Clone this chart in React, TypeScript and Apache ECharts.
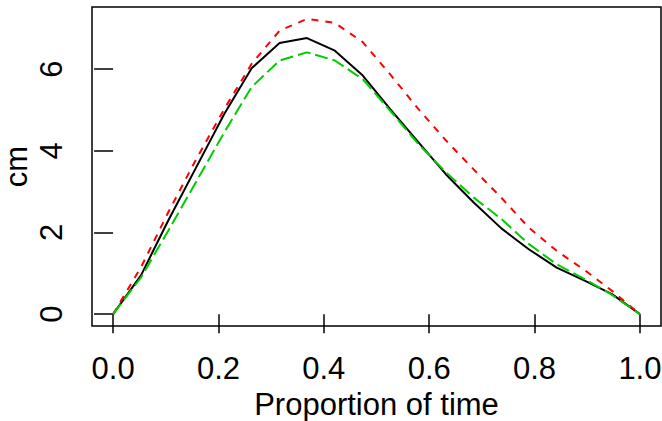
import React, { useEffect, useRef } from "react";
import * as echarts from "echarts";

const times = [0, 0.053, 0.105, 0.158, 0.211, 0.263, 0.316, 0.368, 0.421, 0.474, 0.526, 0.579, 0.632, 0.684, 0.737, 0.789, 0.842, 0.895, 0.947, 1.0];
const blackSeries = [0, 0.95, 2.3, 3.6, 4.9, 6.02, 6.64, 6.76, 6.45, 5.84, 5.02, 4.22, 3.42, 2.74, 2.1, 1.59, 1.14, 0.82, 0.49, 0];
const redSeries = [0, 1.15, 2.5, 3.8, 5.02, 6.13, 6.94, 7.23, 7.13, 6.66, 5.87, 5.03, 4.25, 3.55, 2.85, 2.12, 1.55, 1.08, 0.57, 0];
const greenSeries = [0, 0.9, 2.05, 3.25, 4.45, 5.56, 6.21, 6.41, 6.21, 5.75, 4.98, 4.17, 3.47, 2.86, 2.33, 1.72, 1.22, 0.86, 0.47, 0];
const xTicks = [0, 0.2, 0.4, 0.6, 0.8, 1.0];
const yTicks = [0, 2, 4, 6];

const FONT = "Liberation Sans, Arial, Helvetica, sans-serif";

export default function App() {
  const ref = useRef<HTMLDivElement>(null);
  useEffect(() => {
    if (!ref.current) return;
    const chart = echarts.init(ref.current, null, { renderer: "svg" });
    const pairs = (ys: number[]) => times.map((t, i) => [t, ys[i]]);
    chart.setOption({
      animation: false,
      backgroundColor: "#ffffff",
      grid: {
        left: 92,
        top: 7,
        right: 1,
        bottom: 95,
        containLabel: false,
        outerBoundsMode: "none",
        show: true,
        borderColor: "#000",
        borderWidth: 1.5,
        backgroundColor: "transparent",
      },
      xAxis: {
        type: "value",
        min: -0.04,
        max: 1.04,
        name: "Proportion of time",
        nameLocation: "middle",
        nameGap: 63,
        nameMoveOverlap: false,
        nameTextStyle: { fontSize: 31, color: "#000", fontFamily: FONT },
        axisLine: { show: false },
        splitLine: { show: false },
        axisTick: {
          show: true,
          length: 19,
          customValues: xTicks,
          lineStyle: { color: "#000", width: 1.5 },
        },
        axisLabel: {
          customValues: xTicks,
          margin: 27,
          fontSize: 31,
          color: "#000",
          fontFamily: FONT,
          formatter: (v: number) => v.toFixed(1),
        },
      },
      yAxis: {
        type: "value",
        min: -0.29,
        max: 7.52,
        name: "cm",
        nameLocation: "middle",
        nameRotate: 90,
        nameGap: 60,
        nameMoveOverlap: false,
        nameTextStyle: { fontSize: 31, color: "#000", fontFamily: FONT },
        axisLine: { show: false },
        splitLine: { show: false },
        axisTick: {
          show: true,
          length: 19,
          customValues: yTicks,
          lineStyle: { color: "#000", width: 1.5 },
        },
        axisLabel: {
          customValues: yTicks,
          rotate: 90,
          margin: 25,
          fontSize: 31,
          color: "#000",
          fontFamily: FONT,
        },
      },
      series: [
        {
          type: "line",
          data: pairs(blackSeries),
          showSymbol: false,
          lineStyle: { color: "#000000", width: 2, type: "solid" },
          z: 2,
        },
        {
          type: "line",
          data: pairs(redSeries),
          showSymbol: false,
          lineStyle: { color: "#ff0000", width: 2, type: [7, 7] },
          z: 3,
        },
        {
          type: "line",
          data: pairs(greenSeries),
          showSymbol: false,
          lineStyle: { color: "#00cd00", width: 2, type: [13, 5] },
          z: 4,
        },
      ],
    });
    return () => chart.dispose();
  }, []);
  return (
    <div
      ref={ref}
      style={{ position: "fixed", left: 0, top: 0, width: 662, height: 421 }}
    />
  );
}
